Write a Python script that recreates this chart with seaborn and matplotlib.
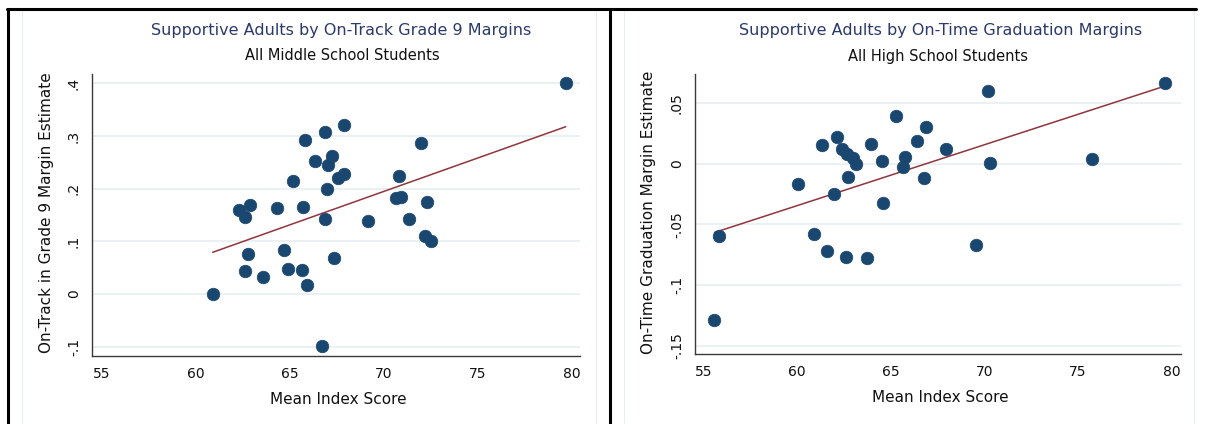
import numpy as np
import pandas as pd
import matplotlib
matplotlib.use("Agg")
import matplotlib.pyplot as plt
from matplotlib.lines import Line2D
from matplotlib.patches import Rectangle
import seaborn as sns

# Middle school panel: mean index score vs on-track margin estimate
ms_index = [79.7, 67.92, 66.92, 65.84, 72.0, 67.28, 66.37, 67.08, 67.92, 67.61,
            70.83, 65.21, 67.0, 70.69, 70.96, 72.34, 62.89, 62.34, 64.33, 65.75,
            62.64, 66.92, 69.2, 71.36, 72.22, 72.52, 62.8, 64.7, 67.37, 62.64,
            63.61, 64.93, 65.68, 65.96, 60.92, 66.74]
ms_margin = [0.400, 0.322, 0.307, 0.292, 0.286, 0.263, 0.252, 0.245, 0.227, 0.221,
             0.225, 0.215, 0.199, 0.183, 0.184, 0.175, 0.169, 0.159, 0.164, 0.166,
             0.146, 0.142, 0.139, 0.142, 0.111, 0.100, 0.075, 0.083, 0.069, 0.043,
             0.032, 0.047, 0.046, 0.017, 0.000, -0.099]

# High school panel: mean index score vs on-time graduation margin estimate
hs_index = [79.66, 70.2, 65.3, 66.87, 62.14, 66.39, 61.32, 63.95, 67.95, 62.42,
            62.65, 62.99, 63.13, 64.54, 65.78, 65.64, 70.3, 75.75, 62.7, 66.76,
            60.05, 61.98, 64.57, 55.85, 60.91, 69.56, 61.6, 62.63, 63.74, 55.6]
hs_margin = [0.0669, 0.0598, 0.0397, 0.0306, 0.0223, 0.0185, 0.0152, 0.0160, 0.0118, 0.0121,
             0.0077, 0.0044, 0.0000, 0.0025, 0.0052, -0.0025, 0.0008, 0.0036, -0.0110, -0.0116,
             -0.0165, -0.0250, -0.0322, -0.0595, -0.0579, -0.0672, -0.0722, -0.0766, -0.0777, -0.1287]

ms_ticks = [-0.1, 0, 0.1, 0.2, 0.3, 0.4]
ms_tick_labels = ["-.1", "0", ".1", ".2", ".3", ".4"]
hs_ticks = [-0.15, -0.1, -0.05, 0, 0.05]
hs_tick_labels = ["-.15", "-.1", "-.05", "0", ".05"]
x_ticks = [55, 60, 65, 70, 75, 80]

ms_df = pd.DataFrame({"index": ms_index, "margin": ms_margin})
hs_df = pd.DataFrame({"index": hs_index, "margin": hs_margin})

sns.set_theme(style="white")
plt.rcParams["font.family"] = ["DejaVu Sans"]

W, H = 1205, 424
fig = plt.figure(figsize=(W / 100, H / 100), dpi=100)
fig.patch.set_facecolor("white")

NAVY = "#1a476f"
MAROON = "#90353b"
TITLE = "#2b3a6b"
GRID = "#e6eff1"
SPINE = "#3a3a3a"


def px_axes(x0, y0, x1, y1):
    return fig.add_axes([x0 / W, 1 - y1 / H, (x1 - x0) / W, (y1 - y0) / H])


def ftext(x, y, s, **kw):
    fig.text(x / W, 1 - y / H, s, **kw)


# faint panel frames and the black table rules around them
for x0, x1 in [(22, 596), (624, 1194)]:
    fig.add_artist(Rectangle((x0 / W, 0), (x1 - x0) / W, 1 - 10 / H,
                             transform=fig.transFigure, facecolor="white",
                             edgecolor="#e8eeee", lw=0.8, zorder=0))
fig.add_artist(Line2D([7 / W, 1196 / W], [1 - 9 / H, 1 - 9 / H],
                      transform=fig.transFigure, color="black", lw=2.2))
fig.add_artist(Line2D([8 / W, 8 / W], [0, 1 - 9 / H],
                      transform=fig.transFigure, color="black", lw=2.2))
fig.add_artist(Line2D([610 / W, 610 / W], [0, 1 - 9 / H],
                      transform=fig.transFigure, color="black", lw=2.2))


def panel(ax, df, xlim, ylim, yticks, ylabels):
    sns.regplot(data=df, x="index", y="margin", ax=ax, scatter=False, ci=None,
                line_kws={"color": MAROON, "lw": 1.1, "zorder": 2})
    sns.scatterplot(data=df, x="index", y="margin", ax=ax, s=82, color=NAVY,
                    edgecolor=NAVY, linewidth=0.5, zorder=3)
    ax.set_xlim(*xlim)
    ax.set_ylim(*ylim)
    ax.set_xticks(x_ticks)
    ax.set_xticklabels([str(t) for t in x_ticks])
    ax.set_yticks(yticks)
    ax.set_yticklabels(ylabels, rotation=90, va="center")
    ax.set_xlabel("")
    ax.set_ylabel("")
    ax.grid(axis="y", color=GRID, lw=1.2)
    ax.set_axisbelow(True)
    for side in ["top", "right"]:
        ax.spines[side].set_visible(False)
    for side in ["left", "bottom"]:
        ax.spines[side].set_color(SPINE)
        ax.spines[side].set_linewidth(1.0)
    ax.tick_params(axis="both", direction="out", length=5, width=0.9,
                   color=SPINE, labelsize=10, labelcolor="#111111", pad=3)
    ax.set_facecolor("none")


ax1 = px_axes(92, 74, 580, 356)
panel(ax1, ms_df, (54.5, 80.46), (-0.118, 0.418), ms_ticks, ms_tick_labels)
ax2 = px_axes(695, 74, 1181, 354)
panel(ax2, hs_df, (54.56, 80.5), (-0.157, 0.074), hs_ticks, hs_tick_labels)

# titles and axis labels
ftext(341, 31, "Supportive Adults by On-Track Grade 9 Margins", ha="center",
      va="center", fontsize=11.5, color=TITLE)
ftext(342, 56, "All Middle School Students", ha="center", va="center",
      fontsize=10.5, color="#111111")
ftext(338, 400, "Mean Index Score", ha="center", va="center", fontsize=11,
      color="#111111")
ftext(46, 213, "On-Track in Grade 9 Margin Estimate", ha="center", va="center",
      rotation=90, fontsize=11, color="#111111")

ftext(941, 31, "Supportive Adults by On-Time Graduation Margins", ha="center",
      va="center", fontsize=11.5, color=TITLE)
ftext(938, 56, "All High School Students", ha="center", va="center",
      fontsize=10.5, color="#111111")
ftext(940, 398, "Mean Index Score", ha="center", va="center", fontsize=11,
      color="#111111")
ftext(649, 212, "On-Time Graduation Margin Estimate", ha="center", va="center",
      rotation=90, fontsize=11, color="#111111")

fig.savefig("out.png", dpi=100, facecolor="white")
